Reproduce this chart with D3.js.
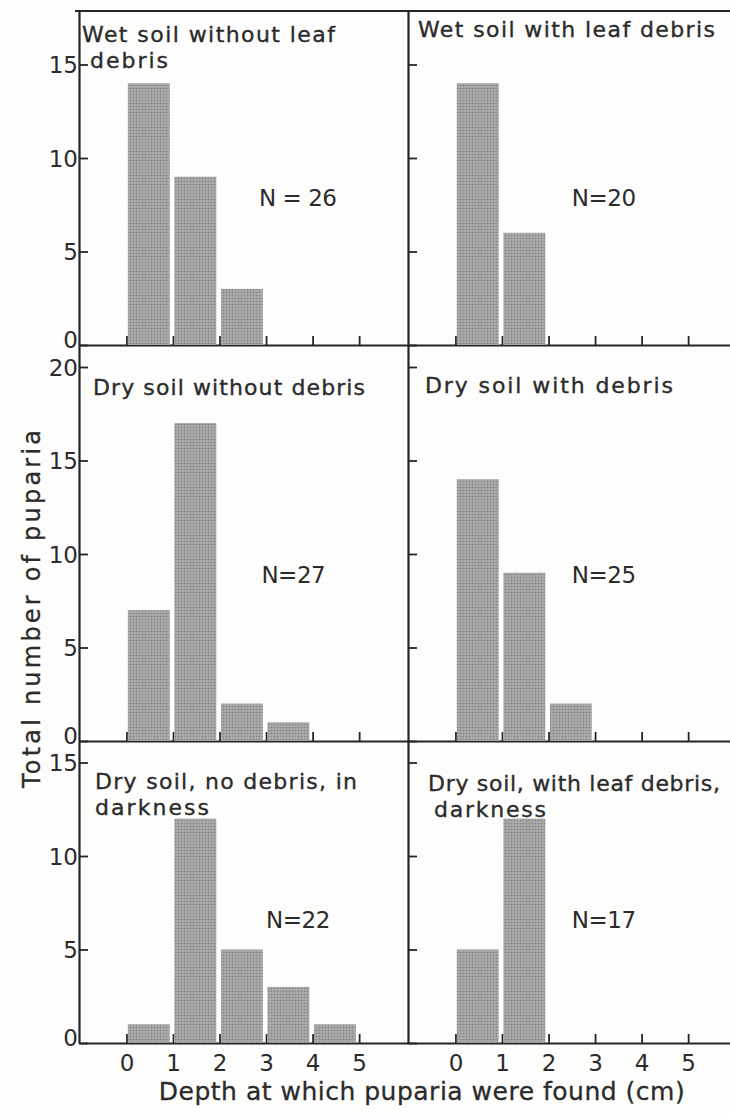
<!DOCTYPE html>
<html>
<head>
<meta charset="utf-8">
<script src="https://cdn.jsdelivr.net/npm/d3@7/dist/d3.min.js"></script>
<style>
  html, body { margin: 0; padding: 0; background: #fdfdfc; }
  svg { display: block; }
  text { font-family: "DejaVu Sans", sans-serif; fill: #2b2b2b; }
</style>
</head>
<body>
<svg id="chart" width="730" height="1116"></svg>
<script>
// Depth classes (cm): bar i spans depth i .. i+1
const depthTicks = [0, 1, 2, 3, 4, 5];

// Number of puparia per 1-cm depth class, one array per treatment
const wetNoDebris       = [14, 9, 3];
const wetLeafDebris     = [14, 6];
const dryNoDebris       = [7, 17, 2, 1];
const dryDebris         = [14, 9, 2];
const dryNoDebrisDark   = [1, 12, 5, 3, 1];
const dryLeafDebrisDark = [5, 12];

// Panel titles and sample sizes
const panelTitles = [
  ["Wet soil without leaf", "debris"],
  ["Wet soil with leaf debris"],
  ["Dry soil without debris"],
  ["Dry soil with debris"],
  ["Dry soil, no debris, in", "darkness"],
  ["Dry soil, with leaf debris,", "darkness"]
];
const sampleLabels = ["N = 26", "N=20", "N=27", "N=25", "N=22", "N=17"];

// Y tick values per row
const rowTicks = [[0, 5, 10, 15], [0, 5, 10, 15, 20], [0, 5, 10, 15]];

const xLabel = "Depth at which puparia were found (cm)";
const yLabel = "Total number of puparia";

const series = [wetNoDebris, wetLeafDebris, dryNoDebris, dryDebris, dryNoDebrisDark, dryLeafDebrisDark];

// ---- layout ----
const cols = [{x0: 79, x1: 408}, {x0: 408, x1: 737}];
const rows = [{y0: 11, y1: 345}, {y0: 345, y1: 741}, {y0: 741, y1: 1043}];
const pxPerUnit = 18.7;
const xDomain = [-1.02, 6.05];

// title placement: x offset from the panel's left edge, baselines, set widths
const titleLayout = [
  {dx: 3,  base: [42, 68],   indent: [0, 8], len: [253, 78]},
  {dx: 10, base: [37],       indent: [0],    len: [297]},
  {dx: 14, base: [395],      indent: [0],    len: [272]},
  {dx: 17, base: [393],      indent: [0],    len: [248]},
  {dx: 16, base: [789, 815], indent: [0, 0], len: [262, 114]},
  {dx: 20, base: [791, 817], indent: [0, 6], len: [292, 112]}
];
// sample-size label anchors, in depth / count units
const labelPos = [
  {x: 2.85, y: 7.9}, {x: 2.5, y: 7.9},
  {x: 2.9, y: 8.9},  {x: 2.5, y: 8.9},
  {x: 3.0, y: 6.6},  {x: 2.5, y: 6.6}
];

const svg = d3.select("#chart");

// halftone-like screen fill for the bars
const defs = svg.append("defs");
const pat = defs.append("pattern")
  .attr("id", "screen").attr("patternUnits", "userSpaceOnUse")
  .attr("width", 3).attr("height", 3);
pat.append("rect").attr("width", 3).attr("height", 3).attr("fill", "#a9a9a9");
pat.append("circle").attr("cx", 1.5).attr("cy", 1.5).attr("r", 0.8).attr("fill", "#828282");

const axisColor = "#252525";
const inkStroke = "#2b2b2b";

series.forEach((vals, i) => {
  const r = Math.floor(i / 2), c = i % 2;
  const col = cols[c], row = rows[r];
  const x = d3.scaleLinear().domain(xDomain).range([col.x0, col.x1]);
  const yMax = (row.y1 - row.y0) / pxPerUnit;
  const y = d3.scaleLinear().domain([0, yMax]).range([row.y1, row.y0]);

  const g = svg.append("g");

  // bottom axis, ticks pointing up into the panel
  const xAxis = d3.axisBottom(x).tickValues(depthTicks)
    .tickSize(-9).tickSizeOuter(0).tickPadding(12)
    .tickFormat(r === 2 ? d3.format("d") : () => "");
  const gx = g.append("g").attr("transform", `translate(0,${row.y1})`).call(xAxis);
  gx.select(".domain").attr("stroke", axisColor).attr("stroke-width", 2.2);
  gx.selectAll(".tick line").attr("stroke", axisColor).attr("stroke-width", 1.8);
  gx.selectAll(".tick text").style("font-size", "23px").attr("fill", "#2b2b2b")
    .attr("font-family", null);

  // left axis, ticks pointing right into the panel
  const yAxis = d3.axisLeft(y).tickValues(rowTicks[r])
    .tickSize(-9).tickSizeOuter(0).tickPadding(1)
    .tickFormat(c === 0 ? d3.format("d") : () => "");
  const gy = g.append("g").attr("transform", `translate(${col.x0},0)`).call(yAxis);
  gy.select(".domain").attr("stroke", axisColor).attr("stroke-width", 2.2);
  gy.selectAll(".tick line").attr("stroke", axisColor).attr("stroke-width", 1.8);
  gy.selectAll(".tick text").style("font-size", "23px").attr("fill", "#2b2b2b")
    .attr("font-family", null)
    .attr("dy", d => d === 0 ? "0.1em" : "0.36em");

  // bars
  g.append("g").selectAll("rect").data(vals).join("rect")
    .attr("x", (d, k) => x(k + 0.03))
    .attr("width", (d, k) => x(k + 0.93) - x(k + 0.03))
    .attr("y", d => y(d))
    .attr("height", d => y(0) - y(d))
    .attr("fill", "url(#screen)");

  // title
  const tl = titleLayout[i];
  panelTitles[i].forEach((line, li) => {
    g.append("text")
      .attr("x", col.x0 + tl.dx + tl.indent[li])
      .attr("y", tl.base[li])
      .attr("textLength", tl.len[li])
      .attr("lengthAdjust", "spacing")
      .style("font-size", "22px")
      .attr("stroke", inkStroke).attr("stroke-width", 0.35)
      .text(line);
  });

  // sample size
  g.append("text")
    .attr("x", x(labelPos[i].x))
    .attr("y", y(labelPos[i].y))
    .attr("dy", "0.36em")
    .style("font-size", "23px")
    .style("letter-spacing", "-0.5px")
    .text(sampleLabels[i]);
});

// top frame line
svg.append("line")
  .attr("x1", cols[0].x0 - 4).attr("x2", 730)
  .attr("y1", rows[0].y0).attr("y2", rows[0].y0)
  .attr("stroke", axisColor).attr("stroke-width", 2.2);

// axis titles
svg.append("text")
  .attr("x", 422).attr("y", 1100)
  .attr("text-anchor", "middle")
  .style("font-size", "25px").style("letter-spacing", "0.5px")
  .attr("stroke", inkStroke).attr("stroke-width", 0.3)
  .text(xLabel);

svg.append("text")
  .attr("transform", "translate(40,788) rotate(-90)")
  .attr("textLength", 358)
  .attr("lengthAdjust", "spacing")
  .style("font-size", "24px")
  .attr("stroke", inkStroke).attr("stroke-width", 0.3)
  .text(yLabel);
</script>
</body>
</html>
